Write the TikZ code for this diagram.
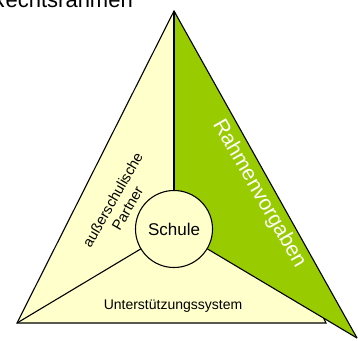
\documentclass[tikz,border=0pt]{standalone}
\usepackage{fontspec}
\setmainfont{Liberation Sans}
\definecolor{paleyellow}{HTML}{FFFFCC}
\definecolor{leafgreen}{HTML}{99CC00}
\tikzset{
  edge/.style={draw=black, line width=1.1pt, line join=miter},
  lbl/.style={inner sep=0pt, align=center},
}
\begin{document}
\begin{tikzpicture}[x=1pt,y=-1pt]
\useasboundingbox (0,0) rectangle (358,340);
\coordinate (apex) at (174,11);
\coordinate (bl) at (17,323);
\coordinate (br) at (326,323);
\coordinate (tip) at (357,338);
\coordinate (ctr) at (174,229);
% top cropped title
\node[lbl, anchor=base east, font=\fontsize{22}{26}\selectfont] (title) at (133,8) {Rechtsrahmen};
% yellow triangle
\fill[paleyellow] (apex) -- (bl) -- (br) -- cycle;
\draw[edge] (apex) -- (bl) -- (br) -- cycle;
% green triangle
\fill[leafgreen] (apex) -- (ctr) -- (tip) -- cycle;
\draw[edge] (apex) -- (tip);
\node[circle, minimum size=77pt, inner sep=0pt] (schuleshape) at (ctr) {};
\draw[edge] (apex) -- (schuleshape);
\draw[edge] (schuleshape) -- (tip);
\draw[edge] (schuleshape) -- (bl);
% central circle
\node[circle, draw=black, line width=1.1pt, fill=paleyellow, minimum size=77pt, inner sep=0pt, font=\fontsize{17}{20}\selectfont] (schule) at (ctr) {Schule};
% labels
\node[lbl, font=\fontsize{14}{16}\selectfont] (unter) at (173,306) {Unterstützungssystem};
\node[lbl, rotate=60, font=\fontsize{14.5}{17}\selectfont] (partner) at (120,204) {außerschulische\\Partner};
\node[lbl, rotate=-60, text=white, font=\fontsize{21}{24}\selectfont] (rahmen) at (259,194) {Rahmenvorgaben};
\end{tikzpicture}
\end{document}
